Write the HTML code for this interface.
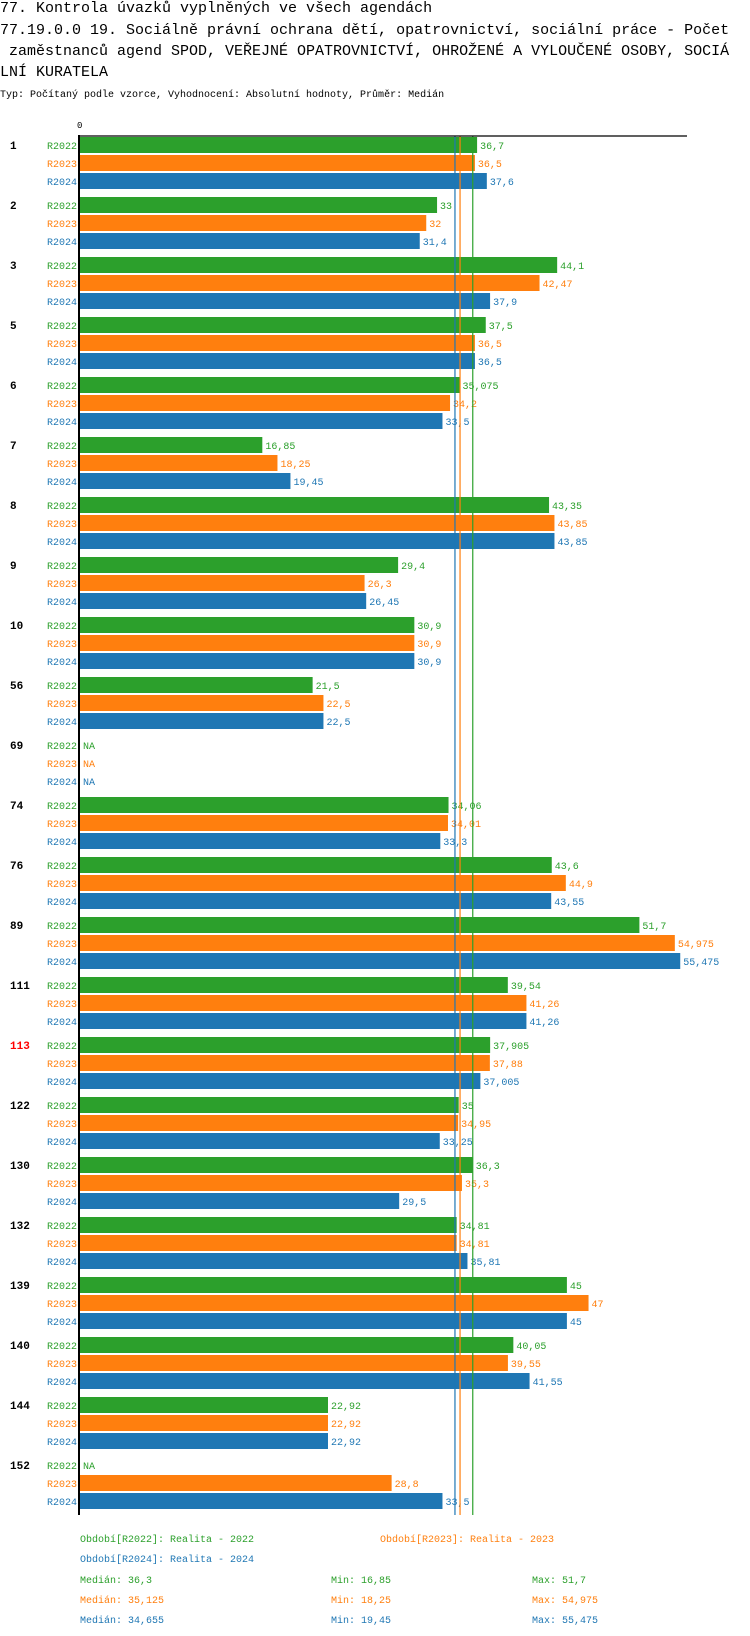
<!DOCTYPE html>
<html><head><meta charset="utf-8">
<style>
html,body{margin:0;padding:0;background:#fff;width:750px;height:1636px;overflow:hidden}
.t{position:absolute;left:0;font-family:"Liberation Mono","DejaVu Sans Mono",monospace;white-space:pre;color:#000}
svg{position:absolute;left:0;top:0}
svg text{font-family:"Liberation Mono","DejaVu Sans Mono",monospace}
</style></head>
<body>
<div class="t" style="top:-2px;font-size:15px;line-height:21px">77. Kontrola úvazků vyplněných ve všech agendách</div>
<div class="t" style="top:20px;font-size:15px;line-height:21px">77.19.0.0 19. Sociálně právní ochrana dětí, opatrovnictví, sociální práce - Počet</div>
<div class="t" style="top:41px;font-size:15px;line-height:21px"> zaměstnanců agend SPOD, VEŘEJNÉ OPATROVNICTVÍ, OHROŽENÉ A VYLOUČENÉ OSOBY, SOCIÁ</div>
<div class="t" style="top:62px;font-size:15px;line-height:21px">LNÍ KURATELA</div>
<div class="t" style="top:89px;font-size:10px;line-height:14px">Typ: Počítaný podle vzorce, Vyhodnocení: Absolutní hodnoty, Průměr: Medián</div>
<svg id="chart" width="750" height="1636"></svg>
<script>
const categories=["1","2","3","5","6","7","8","9","10","56","69","74","76","89","111","113","122","130","132","139","140","144","152"];
const r2022=[36.7,33,44.1,37.5,35.075,16.85,43.35,29.4,30.9,21.5,null,34.06,43.6,51.7,39.54,37.905,35,36.3,34.81,45,40.05,22.92,null];
const r2023=[36.5,32,42.47,36.5,34.2,18.25,43.85,26.3,30.9,22.5,null,34.01,44.9,54.975,41.26,37.88,34.95,35.3,34.81,47,39.55,22.92,28.8];
const r2024=[37.6,31.4,37.9,36.5,33.5,19.45,43.85,26.45,30.9,22.5,null,33.3,43.55,55.475,41.26,37.005,33.25,29.5,35.81,45,41.55,22.92,33.5];
const seriesNames=["R2022","R2023","R2024"];
const medians=[36.3,35.125,34.655];
const mins=[16.85,18.25,19.45];
const maxs=[51.7,54.975,55.475];
const highlight="113";

const colors=["#2ca02c","#ff7f0e","#1f77b4"];
const svg=document.getElementById('chart');
const NS="http://www.w3.org/2000/svg";
const x0=80, pxPerUnit=10.82, top0=136, groupPitch=60.0, rowPitch=18, barH=16, firstCenter=145;
const xs=v=>x0+v*pxPerUnit;
const yc=(g,s)=>firstCenter+g*groupPitch+s*rowPitch;
function el(tag,attrs,txt){const e=document.createElementNS(NS,tag);for(const k in attrs)e.setAttribute(k,attrs[k]);if(txt!==undefined)e.textContent=txt;svg.appendChild(e);return e;}
const fmt=v=>String(v).replace('.',',');
const series=[r2022,r2023,r2024];
const bottom=yc(categories.length-1,2)+14;

categories.forEach((c,g)=>{
  const gl=el('text',{x:10,y:yc(g,0)+4,'font-size':11,'font-weight':'bold',fill:c===highlight?'#ff0000':'#000'},c);
  
  
  series.forEach((arr,s)=>{
    const y=yc(g,s);
    const sl=el('text',{x:77,y:y+4,'font-size':10,fill:colors[s],'text-anchor':'end'},seriesNames[s]);
    
    
    const v=arr[g];
    if(v===null){
      const na=el('text',{x:x0+3,y:y+4,'font-size':10,fill:colors[s]},'NA');
      
      
    }else{
      const b=el('rect',{x:x0,y:y-barH/2,width:xs(v)-x0,height:barH,fill:colors[s]});
      
      
      const vl=el('text',{x:xs(v)+3,y:y+4,'font-size':10,fill:colors[s]},fmt(v));
      
      
    }
  });
});
medians.forEach((m,s)=>{
  const l=el('line',{x1:xs(m),x2:xs(m),y1:top0,y2:bottom,stroke:colors[s],'stroke-width':1.2});
  
  
});
const ax=el('line',{x1:x0-1,x2:x0-1,y1:top0-1,y2:bottom,stroke:'#000','stroke-width':2});


const tx=el('line',{x1:x0-2,x2:687,y1:top0,y2:top0,stroke:'#000','stroke-width':1.3});


const z=el('text',{x:x0-3,y:128,'font-size':9,fill:'#000'},'0');



const legY=[1542,1542,1562];
const legX=[80,380,80];
seriesNames.forEach((n,s)=>{
  const t=el('text',{x:legX[s],y:legY[s],'font-size':10,fill:colors[s]},'Období['+n+']: Realita - '+n.slice(1));
  
  
  const y=1583+s*20;
  const a=el('text',{x:80,y:y,'font-size':10,fill:colors[s]},'Medián: '+fmt(medians[s]));
  
  
  const b=el('text',{x:331,y:y,'font-size':10,fill:colors[s]},'Min: '+fmt(mins[s]));
  
  
  const d=el('text',{x:532,y:y,'font-size':10,fill:colors[s]},'Max: '+fmt(maxs[s]));
  
  
});
</script>
</body></html>
